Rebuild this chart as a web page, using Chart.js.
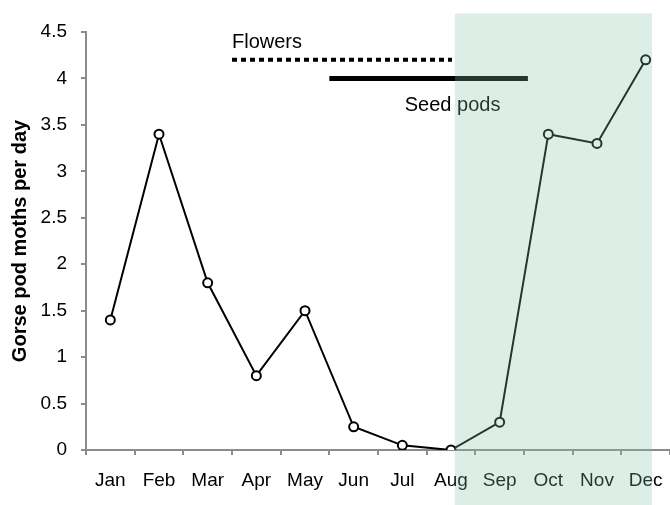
<!DOCTYPE html>
<html>
<head>
<meta charset="utf-8">
<script src="https://cdn.jsdelivr.net/npm/chart.js@4"></script>
<style>
  html, body { margin: 0; padding: 0; background: #fff; }
  #wrap { width: 670px; height: 505px; }
</style>
</head>
<body>
<div id="wrap"><canvas id="gorseChart"></canvas></div>
<script>
// Moth catches per month
const months = ['Jan', 'Feb', 'Mar', 'Apr', 'May', 'Jun', 'Jul', 'Aug', 'Sep', 'Oct', 'Nov', 'Dec'];
const mothsPerDay = [1.4, 3.4, 1.8, 0.8, 1.5, 0.25, 0.05, 0.0, 0.3, 3.4, 3.3, 4.2];

// Flowering / seed pod periods (month index, 0 = Jan)
const flowersSpan = [2.5, 7.02];
const flowersLevel = 4.2;
const seedPodsSpan = [4.5, 8.58];
const seedPodsLevel = 4.0;

// Shaded period (month index) and its top (y value)
const shadeSpan = [7.08, 11.13];
const shadeTop = 4.7;

// Text notes, anchored in data units
const noteText = ['Flowers', 'Seed pods'];
const noteX = [2.5, 6.05];
const noteY = [4.33, 3.65];

const FONT = '"Liberation Sans", Arial, sans-serif';
const AXIS_GREY = '#8c8c8c';

const overlayPlugin = {
    id: 'overlay',
    afterDraw(chart) {
        const ctx = chart.ctx;
        const xs = chart.scales.x2;
        const ys = chart.scales.y;
        ctx.save();

        // notes
        ctx.font = '20px ' + FONT;
        ctx.fillStyle = '#000';
        ctx.textBaseline = 'alphabetic';
        noteText.forEach((t, i) => {
            ctx.fillText(t, xs.getPixelForValue(noteX[i]), ys.getPixelForValue(noteY[i]));
        });

        // green band sits on top of everything
        const left = xs.getPixelForValue(shadeSpan[0]);
        const right = xs.getPixelForValue(shadeSpan[1]);
        const top = ys.getPixelForValue(shadeTop);
        ctx.fillStyle = 'rgba(130, 195, 160, 0.28)';
        ctx.fillRect(left, top, right - left, chart.height - top);
        ctx.restore();
    }
};

const spanPoints = (span, level) => span.map(x => ({ x: x, y: level }));

new Chart(document.getElementById('gorseChart'), {
    type: 'line',
    data: {
        labels: months,
        datasets: [
            {
                data: mothsPerDay,
                borderColor: '#000',
                borderWidth: 2,
                pointRadius: 4.5,
                pointBorderWidth: 2,
                pointBorderColor: '#000',
                pointBackgroundColor: '#fff',
                tension: 0
            },
            {
                data: spanPoints(flowersSpan, flowersLevel),
                xAxisID: 'x2',
                borderColor: '#000',
                borderWidth: 4,
                borderDash: [5, 4],
                borderCapStyle: 'butt',
                pointRadius: 0
            },
            {
                data: spanPoints(seedPodsSpan, seedPodsLevel),
                xAxisID: 'x2',
                borderColor: '#000',
                borderWidth: 5,
                borderCapStyle: 'butt',
                pointRadius: 0
            }
        ]
    },
    options: {
        responsive: true,
        maintainAspectRatio: false,
        animation: false,
        layout: {
            autoPadding: false,
            padding: { top: 32, right: 0, left: 0, bottom: 0 }
        },
        plugins: {
            legend: { display: false },
            tooltip: { enabled: false }
        },
        scales: {
            x: {
                type: 'category',
                offset: true,
                grid: {
                    offset: true,
                    drawOnChartArea: false,
                    drawTicks: true,
                    tickLength: 5,
                    color: AXIS_GREY,
                    lineWidth: 2
                },
                border: { color: AXIS_GREY, width: 2 },
                ticks: {
                    color: '#000',
                    // tick padding eats into the right edge, so drop labels via line height instead
                    padding: 0,
                    maxRotation: 0,
                    autoSkip: false,
                    font: { family: FONT, size: 19, lineHeight: 2.67 }
                },
                afterFit: scale => { scale.height = 55; }
            },
            x2: {
                type: 'linear',
                display: false,
                min: -0.5,
                max: 11.5
            },
            y: {
                min: 0,
                max: 4.5,
                grid: {
                    drawOnChartArea: false,
                    drawTicks: true,
                    tickLength: 5,
                    color: AXIS_GREY,
                    lineWidth: 2
                },
                border: { color: AXIS_GREY, width: 2 },
                ticks: {
                    stepSize: 0.5,
                    color: '#000',
                    padding: 14,
                    font: { family: FONT, size: 19 },
                    callback: v => String(v)
                },
                title: {
                    display: true,
                    text: 'Gorse pod moths per day',
                    color: '#000',
                    padding: { top: 8, bottom: 0 },
                    font: { family: FONT, size: 20, weight: 'bold' }
                },
                afterFit: scale => { scale.width = 86; }
            }
        }
    },
    plugins: [overlayPlugin]
});
</script>
</body>
</html>
